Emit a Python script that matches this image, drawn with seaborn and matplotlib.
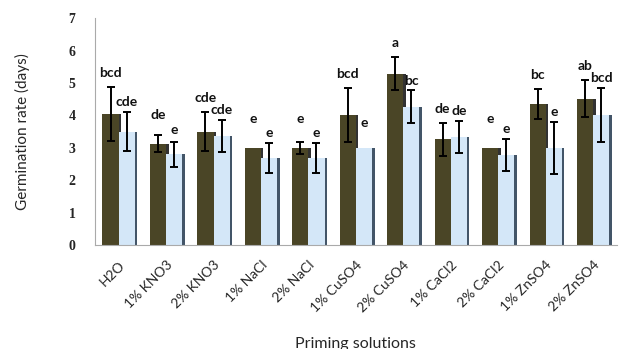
import matplotlib
matplotlib.use("Agg")
import matplotlib.pyplot as plt
import matplotlib.patheffects as pe
import seaborn as sns
import pandas as pd
import numpy as np

treatments = ["H2O", "1% KNO3", "2% KNO3", "1% NaCl", "2% NaCl", "1% CuSO4",
              "2% CuSO4", "1% CaCl2", "2% CaCl2", "1% ZnSO4", "2% ZnSO4"]
series = ["A", "B"]

rate_a = [4.03, 3.13, 3.50, 3.00, 3.00, 4.02, 5.28, 3.26, 3.00, 4.35, 4.52]
err_a = [0.83, 0.27, 0.60, 0.00, 0.18, 0.83, 0.51, 0.50, 0.00, 0.47, 0.58]
letters_a = ["bcd", "de", "cde", "e", "e", "bcd", "a", "de", "e", "bc", "ab"]

rate_b = [3.50, 2.80, 3.37, 2.68, 2.68, 3.00, 4.27, 3.34, 2.77, 3.00, 4.01]
err_b = [0.60, 0.39, 0.50, 0.46, 0.47, 0.00, 0.50, 0.49, 0.50, 0.80, 0.83]
letters_b = ["cde", "e", "cde", "e", "e", "e", "bc", "de", "e", "e", "bcd"]

df = pd.DataFrame({
    "treatment": treatments * 2,
    "series": [series[0]] * len(treatments) + [series[1]] * len(treatments),
    "rate": rate_a + rate_b,
    "err": err_a + err_b,
    "letter": letters_a + letters_b,
})

sns.set_style("white")

fig = plt.figure(figsize=(6.2, 3.49), dpi=100)
ax = fig.add_axes([0.153, 0.298, 0.842, 0.65])

sns.barplot(data=df, x="treatment", y="rate", hue="series",
            palette=["#4a4526", "#d4e7f8"], width=0.68, gap=0,
            errorbar=None, legend=False, ax=ax, saturation=1)

shadow = [pe.SimplePatchShadow(offset=(1.8, 0), shadow_rgbFace="#1c1c1c", alpha=0.9), pe.Normal()]
shadow_b = [pe.SimplePatchShadow(offset=(1.8, 0), shadow_rgbFace="#2e4257", alpha=0.9), pe.Normal()]

patches = ax.patches
n = len(treatments)
for i, p in enumerate(patches[:2 * n]):
    row = df.iloc[i]
    p.set_linewidth(0)
    p.set_path_effects(shadow if i < n else shadow_b)
    xc = p.get_x() + p.get_width() / 2
    if row["err"] > 0:
        ax.errorbar(xc, row["rate"], yerr=row["err"], fmt="none",
                    ecolor="black", elinewidth=1.4, capsize=3, capthick=1.4)
    top = row["rate"] + max(row["err"], 0.45)
    lift = 0.25 if i < n else 0.12
    ax.text(xc, top + lift, row["letter"], ha="center", va="bottom",
            fontsize=10, fontweight="bold", family="Lato", color="#111111")

ax.set_ylim(0, 7)
ax.set_xlim(-0.5, n - 0.5)
ax.set_yticks(range(0, 8))
ax.set_yticklabels([str(v) for v in range(0, 8)], family="Liberation Serif",
                   fontweight="bold", fontsize=10)
ax.set_xticks(range(n))
ax.set_xticklabels(treatments, rotation=45, ha="right", rotation_mode="anchor",
                   family="Lato", fontsize=10)
ax.set_xticks(np.arange(-0.5, n, 1), minor=True)
ax.tick_params(axis="x", which="major", length=0, pad=10)
ax.tick_params(axis="x", which="minor", length=4, color="#999999", direction="out")
ax.tick_params(axis="y", length=4, color="#999999", direction="out", pad=10)

for side in ["top", "right"]:
    ax.spines[side].set_visible(False)
for side in ["left", "bottom"]:
    ax.spines[side].set_color("#aaaaaa")
    ax.spines[side].set_linewidth(0.8)

ax.set_ylabel("Germination rate (days)", family="Lato", fontsize=11, labelpad=28)
ax.set_xlabel("Priming solutions", family="Lato", fontsize=11.5, labelpad=16)

fig.savefig("out.png", dpi=100)
